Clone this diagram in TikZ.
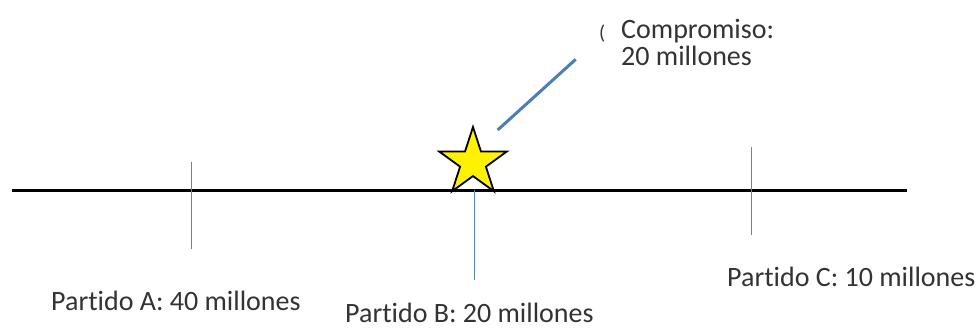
\documentclass[tikz,border=0pt]{standalone}
\usepackage{fontspec}
\setmainfont[RawFeature={-liga;-clig;-dlig;-calt}]{Carlito}
\usetikzlibrary{shapes.geometric}
\definecolor{tickblue}{HTML}{5B86C0}
\definecolor{callblue}{HTML}{4A7EBB}
\definecolor{txt}{HTML}{333333}
\tikzset{
  axisline/.style={line width=3pt, black},
  tickline/.style={line width=1pt, tickblue},
  lbl/.style={anchor=base west, inner sep=0pt, text=txt, font=\fontsize{28}{27}\selectfont},
  starmark/.style={star, star points=5, star point ratio=2.618, minimum size=71pt, inner sep=0pt, draw=black, line width=1.8pt, fill=yellow}
}
\begin{document}
\begin{tikzpicture}[x=1pt, y=-1pt]
\useasboundingbox (0,0) rectangle (979,329);
\coordinate (L) at (12,190.5);
\coordinate (R) at (907,190.5);
\draw[axisline] (L) -- (R);
\coordinate (A1) at (191.7,162);
\coordinate (A2) at (191.7,249);
\coordinate (B1) at (474,190);
\coordinate (B2) at (474,280);
\coordinate (C1) at (751.7,147);
\coordinate (C2) at (751.7,235);
\draw[tickline] (A1) -- (A2);
\draw[tickline] (B1) -- (B2);
\draw[tickline] (C1) -- (C2);
\node[starmark] (S) at (473,162.5) {};
\coordinate (P1) at (497.7,130);
\coordinate (P2) at (575.7,59.3);
\draw[line width=3pt, callblue] (P1) -- (P2);
\node[lbl] (par) at (599,40) {\fontsize{20}{20}\selectfont (};
\node[lbl] (comp) at (621,38) {Compromiso:};
\node[lbl] (comp2) at (621,65) {20 millones};
\node[lbl] (pa) at (51,310) {Part\kern0pt ido A: 40 millones};
\node[lbl] (pb) at (345,322) {Part\kern0pt ido B: 20 millones};
\node[lbl] (pc) at (727,286.7) {Part\kern0pt ido C: 10 millones};
\end{tikzpicture}
\end{document}
